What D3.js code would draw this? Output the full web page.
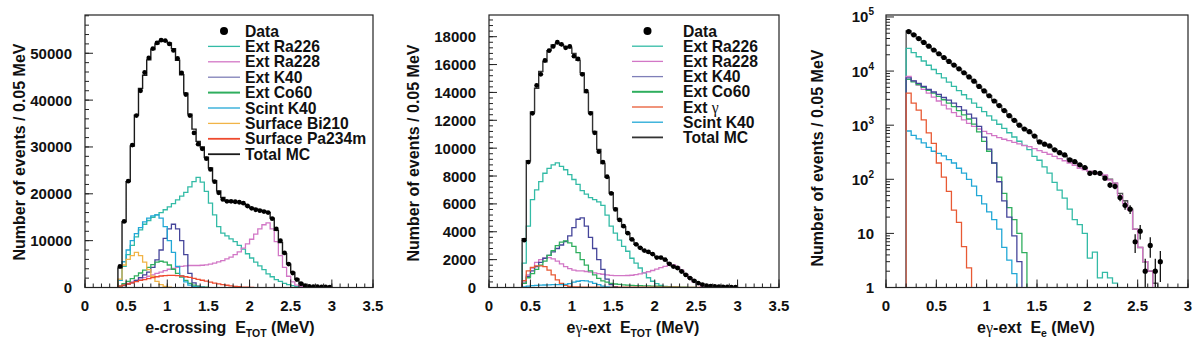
<!DOCTYPE html>
<html>
<head>
<meta charset="utf-8">
<script src="https://cdn.jsdelivr.net/npm/d3@7"></script>
<style>
body { margin: 0; background: #fff; }
svg text { font-family: "Liberation Sans", Arial, sans-serif; font-weight: bold; fill: #111; white-space: pre; }
</style>
</head>
<body>
<svg id="chart" width="1204" height="353"></svg>
<script>
var BIN_W = 0.05;

// ---- panel 1 : e-crossing E_TOT, bins from 0.4 MeV
var p1Start = 0.4;
var p1Data = [4500,14100,22700,30400,36700,42000,45900,49000,51000,52200,52800,52700,52000,50600,48900,45800,41200,36700,33000,30600,
	29600,27500,25200,22600,20200,18800,18400,18400,18300,18200,18000,17400,16900,16600,16400,16200,16000,14700,12500,10000,
	7400,5000,3100,1700,800,400,250,200,180,150,120,100];
var p1Total = [4200,14000,22600,30200,36800,42500,45300,48600,50800,52000,52600,52600,52200,51000,48500,45400,41500,37000,33800,31200,
	30000,27800,25500,22800,20600,19200,18500,18300,18200,18200,17900,17400,17000,16700,16500,16300,16000,14800,12200,9600,
	7200,5000,3200,1800,900,450,250,180,150,120,100,80];
var p1Ra226 = [1500,4500,7000,9000,10800,12300,13500,14300,15000,15500,16000,16600,17200,17900,18700,19500,20300,21500,22600,23500,
	22500,20500,18000,15500,13000,11600,11000,10400,9800,9000,8200,7200,6300,5400,4600,3800,2900,2300,1700,1300,
	900,600,380,200,100,40,10];
var p1Ra228 = [300,600,900,1200,1500,1800,2100,2400,2700,3000,3300,3600,3900,4100,4300,4500,4600,4700,4700,4700,
	4750,4850,5000,5200,5450,5750,6100,6500,7000,7600,8400,9300,10300,11400,12500,13400,13800,12500,9800,6800,
	4300,2400,1200,500,200,80,30];
var p1K40 = [200,400,700,1000,1500,2100,2700,3300,4300,5900,8000,10500,12500,13500,12500,10000,7000,3000,1000,300,80];
var p1Co60 = [300,800,1300,1900,2500,3100,3700,4300,4900,5400,5600,5400,4800,3900,3000,2200,1500,900,500,250,100,50];
var p1ScintK40 = [1500,5500,8000,10000,11500,12800,14000,14800,15300,15500,14800,13000,10000,7500,4500,2500,1200,500,200,80,20];
var p1Bi210 = [1800,4800,6000,6800,7500,6800,5400,3800,2400,1300,600,250,80];
var p1Pa234m = [300,500,750,1000,1250,1500,1700,1900,2100,2300,2450,2550,2600,2600,2550,2450,2300,2150,1950,1750,
	1550,1350,1150,950,780,620,480,350,250,160,100,50,20];

// ---- panel 2 : e-gamma-ext E_TOT, bins from 0.4 MeV
var p2Start = 0.4;
var p2Data = [3400,9000,12500,14500,15300,16300,17000,17300,17600,17450,17200,17300,16600,16400,15300,14100,12500,11100,9750,9000,
	7950,6750,5600,4850,4400,3900,3450,3100,2850,2650,2550,2400,2150,2150,2000,1700,1500,1400,1150,900,
	680,480,320,200,140,100,80,60,50,40,30,25];
var p2Total = [3500,9100,12600,14300,15500,16200,17000,17400,17500,17400,17300,17200,16800,16300,15400,14000,12600,11200,9900,8900,
	7900,6800,5700,4900,4350,3900,3450,3100,2850,2650,2500,2380,2200,2120,2000,1750,1530,1380,1150,920,
	700,480,320,210,140,100,75,60,50,40,30,25];
var p2Ra226 = [1750,4400,6300,7000,7600,8200,8550,8800,8950,8700,8450,8100,7750,7400,6950,6700,6450,6300,6150,5900,
	5200,4400,3900,3400,2950,2600,2100,1750,1400,1050,700,450,280,150,80,40,20];
var p2Ra228 = [400,900,1400,1800,2000,2100,2150,2050,1900,1700,1500,1350,1250,1200,1200,1150,1100,1050,1000,950,
	900,870,850,850,850,860,880,920,980,1050,1130,1220,1320,1420,1520,1600,1620,1500,1250,950,
	650,400,220,100,40,15];
var p2K40 = [300,800,1200,1500,1800,2100,2300,2550,2800,3050,3300,3700,4300,4900,5000,4400,3600,2800,2000,1300,600,200,60];
var p2Co60 = [300,700,1000,1300,1600,1900,2300,2650,3000,3250,3350,3200,2950,2500,2000,1600,1200,900,650,480,
	380,300,250,220,190,170,150,140,130,120,110,100,90,80,70,60,50,40,30,20,15,10];
var p2ExtGamma = [500,1200,1450,1550,1550,1500,1250,900,550,300,150,80,50,40,30,30,30,30,30,30,
	30,30,30,30,30,30,30,30,30,30,25,25,25,25,20,20,20,20,15,15,10,10,5];
var p2ScintK40 = [50,100,130,150,170,180,190,200,200,200,220,280,380,450,500,480,400,300,200,100,40,10];

// ---- panel 3 : e-gamma-ext E_e, log scale, bins from 0.2 MeV
var p3Start = 0.2;
var p3Data = [53700,46800,39800,33900,28800,24500,20900,17800,15100,12900,11000,9300,7800,6500,5200,4300,3500,2800,2300,1860,
	1500,1230,1000,850,760,630,490,445,414,350,310,282,228,212,185,165,129,133,129,105,
	78,74,46,33,28,7,11,2,6,2,3];
var p3Total = [55000,47500,40000,34000,28800,24600,21000,17900,15200,13000,11000,9300,7800,6400,5200,4300,3500,2850,2300,1850,
	1480,1220,1000,860,750,640,510,450,410,355,310,275,235,210,185,165,140,132,128,115,
	100,85,55,40,28,12,5.5,3,2,1.2];
var p3Ra226 = [26300,22000,18400,15350,12800,10700,8950,7480,6250,5220,4365,3650,3050,2550,2130,1780,1490,1240,1040,870,
	725,605,505,423,353,265,225,170,130,88,63,45,28,18,14.5,10,3.5,4.5,1.5,1.9,
	1.5,1.2,0.6];
var p3Ra228 = [8000,6600,5500,4600,3900,3300,2800,2350,2000,1700,1450,1250,1080,950,850,770,700,640,590,550,
	520,480,450,420,400,370,340,315,290,265,240,220,200,180,160,150,140,130,125,120,
	97,85,50,36,27,12,5.5,3,2,0.6];
var p3K40 = [7500,6600,5900,5200,4600,4100,3700,3250,2900,2550,2200,1900,1600,1350,950,600,360,200,90,40,20,9,3,0.5];
var p3Co60 = [7000,6300,5600,5000,4400,3900,3400,2950,2550,2200,1850,1550,1300,1050,750,500,330,200,110,55,30,18,10,4.4];
var p3ExtGamma = [3900,2550,1900,1250,720,460,200,110,60,27,16,5.7,2.3,0.3];
var p3ScintK40 = [780,650,560,470,390,330,300,270,230,200,160,130,100,75,50,35,25,18,12,5.5,3.2,1.8,0.5];

// tick labels
var xTicksE = [0, 0.5, 1, 1.5, 2, 2.5, 3, 3.5];
var xTicks3 = [0, 0.5, 1, 1.5, 2, 2.5, 3];
var yTicks1 = [0, 10000, 20000, 30000, 40000, 50000];
var yTicks2 = [0, 2000, 4000, 6000, 8000, 10000, 12000, 14000, 16000, 18000];
var yTicks3 = [1, 10, 100, 1000, 10000, 100000];

var COL = {
	ra226: '#33bba6', ra228: '#d277c6', k40: '#45459a', co60: '#2fae5e',
	scint: '#22a8d6', bi210: '#f1b447', pa234m: '#ee4a2e', extg: '#e85a34',
	total: '#1a1a1a', total3: '#555555', data: '#000'
};

var svg = d3.select('#chart');

function drawPanel(p) {
	var fr = p.frame;
	var g = svg.append('g').attr('class', p.id);

	var xs = d3.scaleLinear().domain(p.xDomain).range([fr.x0, fr.x1]);
	var ys = p.log ? d3.scaleLog().domain(p.yDomain).range([fr.y1, fr.y0])
		: d3.scaleLinear().domain(p.yDomain).range([fr.y1, fr.y0]);
	var floor = p.log ? p.yDomain[0] * 0.01 : 0;

	g.append('clipPath').attr('id', 'clip-' + p.id)
		.append('rect').attr('x', fr.x0).attr('y', fr.y0)
		.attr('width', fr.x1 - fr.x0).attr('height', fr.y1 - fr.y0);

	var plot = g.append('g').attr('clip-path', 'url(#clip-' + p.id + ')');

	var line = d3.line()
		.x(function(d) { return xs(d[0]); })
		.y(function(d) { return ys(d[1] > floor ? d[1] : floor); });

	function histPoints(vals) {
		var pts = [[p.start, floor]];
		vals.forEach(function(v, i) {
			var a = p.start + i * BIN_W;
			pts.push([a, v], [a + BIN_W, v]);
		});
		pts.push([p.start + vals.length * BIN_W, floor]);
		return pts;
	}

	p.series.forEach(function(s) {
		plot.append('path').attr('d', line(histPoints(s.values)))
			.attr('fill', 'none').attr('stroke', s.color)
			.attr('stroke-width', s.width || 1.3);
	});

	// data points with poisson error bars
	var pts = p.data.map(function(v, i) { return {x: p.start + (i + 0.5) * BIN_W, v: v}; })
		.filter(function(d) { return d.v > 0; });
	plot.selectAll('line.err').data(pts).enter().append('line')
		.attr('x1', function(d) { return xs(d.x); }).attr('x2', function(d) { return xs(d.x); })
		.attr('y1', function(d) { return ys(Math.max(d.v - Math.sqrt(d.v), floor)); })
		.attr('y2', function(d) { return ys(d.v + Math.sqrt(d.v)); })
		.attr('stroke', COL.data).attr('stroke-width', 1.2);
	plot.selectAll('circle').data(pts).enter().append('circle')
		.attr('cx', function(d) { return xs(d.x); }).attr('cy', function(d) { return ys(d.v); })
		.attr('r', p.dotR).attr('fill', COL.data);

	// frame
	g.append('rect').attr('x', fr.x0).attr('y', fr.y0)
		.attr('width', fr.x1 - fr.x0).attr('height', fr.y1 - fr.y0)
		.attr('fill', 'none').attr('stroke', '#222').attr('stroke-width', 1.2);

	// x ticks
	var xMinor = d3.range(p.xDomain[0], p.xDomain[1] + 1e-9, 0.1);
	g.selectAll('line.xminor').data(xMinor).enter().append('line')
		.attr('x1', xs).attr('x2', xs).attr('y1', fr.y1).attr('y2', fr.y1 - 4)
		.attr('stroke', '#222');
	g.selectAll('line.xmajor').data(p.xTicks).enter().append('line')
		.attr('x1', xs).attr('x2', xs).attr('y1', fr.y1).attr('y2', fr.y1 - 8)
		.attr('stroke', '#222');
	g.selectAll('text.xl').data(p.xTicks).enter().append('text')
		.attr('x', xs).attr('y', fr.y1 + 23).attr('text-anchor', 'middle')
		.attr('font-size', 15).text(function(d) { return d; });

	// y ticks
	var yMinor;
	if (p.log) {
		yMinor = [];
		for (var e = 0; e < 5; e++) for (var k = 2; k <= 9; k++) {
			var v = k * Math.pow(10, e);
			if (v <= p.yDomain[1]) yMinor.push(v);
		}
	} else {
		yMinor = d3.range(0, p.yDomain[1], p.yMinorStep);
	}
	g.selectAll('line.yminor').data(yMinor).enter().append('line')
		.attr('x1', fr.x0).attr('x2', fr.x0 + 4).attr('y1', ys).attr('y2', ys)
		.attr('stroke', '#222');
	g.selectAll('line.ymajor').data(p.yTicks).enter().append('line')
		.attr('x1', fr.x0).attr('x2', fr.x0 + 8).attr('y1', ys).attr('y2', ys)
		.attr('stroke', '#222');
	var yl = g.selectAll('text.yl').data(p.yTicks).enter().append('text')
		.attr('x', fr.x0 - (p.log ? 12 : 13)).attr('y', function(d) { return ys(d) + 5.5; })
		.attr('text-anchor', 'end').attr('font-size', 15);
	yl.each(function(d) {
		var t = d3.select(this);
		if (p.log && d >= 100) {
			t.append('tspan').text('10');
			t.append('tspan').attr('font-size', 10).attr('dy', -7).text(Math.round(Math.log10(d)));
		} else {
			t.text(d);
		}
	});

	// axis titles
	var xt = g.append('text').attr('x', p.xTitle.x).attr('y', 333)
		.attr('text-anchor', 'middle').attr('font-size', 16);
	p.xTitle.parts.forEach(function(part) {
		var ts = xt.append('tspan').text(part.t);
		if (part.sub) ts.attr('font-size', 10.5).attr('dy', 4);
		if (part.up) ts.attr('dy', -4);
		if (part.greek) ts.attr('font-family', '"Liberation Serif", serif').attr('font-weight', 'normal');
	});
	g.append('text')
		.attr('transform', 'translate(' + p.yTitle.x + ',' + p.yTitle.y + ') rotate(-90)')
		.attr('text-anchor', 'middle').attr('font-size', 16)
		.text('Number of events / 0.05 MeV');

	// legend
	if (p.legend) {
		var L = p.legend;
		var rows = g.selectAll('g.leg').data(L.entries).enter().append('g')
			.attr('transform', function(d, i) { return 'translate(0,' + (L.y0 + i * L.dy) + ')'; });
		rows.each(function(d) {
			var r = d3.select(this);
			if (d.dot) {
				r.append('circle').attr('cx', (L.x0 + L.x1) / 2).attr('cy', 0).attr('r', 4).attr('fill', COL.data);
			} else {
				r.append('line').attr('x1', L.x0).attr('x2', L.x1).attr('y1', 0).attr('y2', 0)
					.attr('stroke', d.color).attr('stroke-width', d.lw || 1.3);
			}
			var t = r.append('text').attr('x', L.tx).attr('y', 5.5).attr('font-size', 15.7);
			t.append('tspan').text(d.label);
			if (d.greek) t.append('tspan').attr('font-family', '"Liberation Serif", serif')
				.attr('font-weight', 'normal').text(d.greek);
		});
	}
}

drawPanel({
	id: 'p1', start: p1Start, frame: {x0: 85, x1: 373, y0: 15, y1: 287.5},
	xDomain: [0, 3.5], yDomain: [0, 58170], xTicks: xTicksE, yTicks: yTicks1, yMinorStep: 2000,
	dotR: 2.4, data: p1Data,
	series: [
		{values: p1Ra226, color: COL.ra226},
		{values: p1Ra228, color: COL.ra228},
		{values: p1K40, color: COL.k40},
		{values: p1Co60, color: COL.co60},
		{values: p1ScintK40, color: COL.scint},
		{values: p1Bi210, color: COL.bi210},
		{values: p1Pa234m, color: COL.pa234m},
		{values: p1Total, color: COL.total, width: 1.4}
	],
	xTitle: {x: 230, parts: [{t: 'e-crossing  E'}, {t: 'TOT', sub: true}, {t: ' (MeV)', up: true}]},
	yTitle: {x: 25, y: 152},
	legend: {x0: 208, x1: 240, tx: 245, y0: 31, dy: 15.4, entries: [
		{label: 'Data', dot: true},
		{label: 'Ext Ra226', color: COL.ra226},
		{label: 'Ext Ra228', color: COL.ra228},
		{label: 'Ext K40', color: '#7f7fb8'},
		{label: 'Ext Co60', color: COL.co60, lw: 2},
		{label: 'Scint K40', color: COL.scint},
		{label: 'Surface Bi210', color: COL.bi210},
		{label: 'Surface Pa234m', color: COL.pa234m, lw: 1.8},
		{label: 'Total MC', color: COL.total, lw: 1.8}
	]}
});

drawPanel({
	id: 'p2', start: p2Start, frame: {x0: 489, x1: 779, y0: 15, y1: 287.5},
	xDomain: [0, 3.5], yDomain: [0, 19557], xTicks: xTicksE, yTicks: yTicks2, yMinorStep: 400,
	dotR: 2.4, data: p2Data,
	series: [
		{values: p2Ra226, color: COL.ra226},
		{values: p2Ra228, color: COL.ra228},
		{values: p2K40, color: COL.k40},
		{values: p2Co60, color: COL.co60},
		{values: p2ExtGamma, color: COL.extg},
		{values: p2ScintK40, color: COL.scint},
		{values: p2Total, color: '#333', width: 1.4}
	],
	xTitle: {x: 633, parts: [{t: 'e'}, {t: 'γ', greek: true}, {t: '-ext  E'}, {t: 'TOT', sub: true}, {t: ' (MeV)', up: true}]},
	yTitle: {x: 419, y: 153},
	legend: {x0: 632, x1: 663, tx: 683, y0: 31, dy: 15.2, entries: [
		{label: 'Data', dot: true},
		{label: 'Ext Ra226', color: COL.ra226},
		{label: 'Ext Ra228', color: COL.ra228},
		{label: 'Ext K40', color: '#7f7fb8'},
		{label: 'Ext Co60', color: COL.co60, lw: 2},
		{label: 'Ext ', greek: 'γ', color: COL.extg},
		{label: 'Scint K40', color: COL.scint},
		{label: 'Total MC', color: '#333', lw: 1.8}
	]}
});

drawPanel({
	id: 'p3', start: p3Start, frame: {x0: 886, x1: 1188, y0: 15, y1: 287.5}, log: true,
	xDomain: [0, 3], yDomain: [1, 108700], xTicks: xTicks3, yTicks: yTicks3,
	dotR: 2.6, data: p3Data,
	series: [
		{values: p3Total, color: COL.total3, width: 1.4},
		{values: p3Ra226, color: COL.ra226},
		{values: p3Ra228, color: COL.ra228},
		{values: p3Co60, color: COL.co60},
		{values: p3K40, color: COL.k40},
		{values: p3ScintK40, color: COL.scint},
		{values: p3ExtGamma, color: COL.extg}
	],
	xTitle: {x: 1036, parts: [{t: 'e'}, {t: 'γ', greek: true}, {t: '-ext  E'}, {t: 'e', sub: true}, {t: ' (MeV)', up: true}]},
	yTitle: {x: 823, y: 158}
});
</script>
</body>
</html>
